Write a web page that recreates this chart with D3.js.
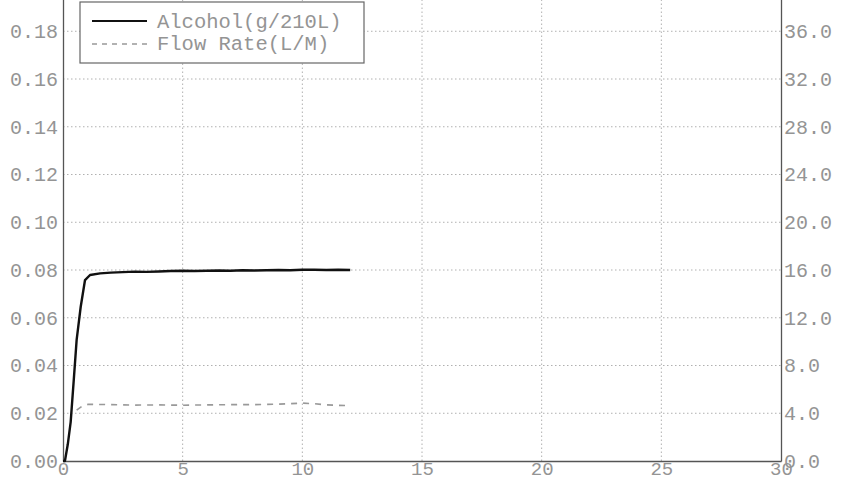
<!DOCTYPE html>
<html><head><meta charset="utf-8">
<script src="https://cdn.jsdelivr.net/npm/d3@7"></script>
<style>body{margin:0;background:#fff}svg{display:block}</style>
</head><body>
<svg id="c" width="843" height="481"></svg>
<script>
const alcohol = [[0,0],[0.08,0],[0.2,0.007],[0.32,0.0163],[0.45,0.034],[0.57,0.0507],[0.74,0.0646],[0.92,0.0758],[1.13,0.0779],[1.55,0.0786],[2.0,0.0789],[2.5,0.0791],[3.0,0.0793],[3.5,0.0792],[4.0,0.0794],[4.5,0.0796],[5.0,0.0797],[5.5,0.0796],[6.0,0.0797],[6.5,0.0798],[7.0,0.0797],[7.5,0.0799],[8.0,0.0798],[8.5,0.0799],[9.0,0.0800],[9.5,0.0799],[10.0,0.0801],[10.5,0.0801],[11.0,0.0800],[11.5,0.0801],[12.0,0.0800]];
const flow = [[0.57,4.27],[0.8,4.6],[1.06,4.75],[2,4.72],[3,4.68],[4,4.7],[5,4.67],[6,4.7],[7,4.72],[8,4.72],[9,4.76],[10,4.85],[10.5,4.8],[11,4.7],[12,4.63]];
const xTicks = [0,5,10,15,20,25,30];
const yTicks = [0,0.02,0.04,0.06,0.08,0.10,0.12,0.14,0.16,0.18];
const y2Ticks = [0,4,8,12,16,20,24,28,32,36];
const seriesNames = ["Alcohol(g/210L)","Flow Rate(L/M)"];

const svg = d3.select("#c");
const L=63, R=781, B=461, T=-16.5;
const x = d3.scaleLinear().domain([0,30]).range([L,R]);
const y = d3.scaleLinear().domain([0,0.2]).range([B,T]);
const y2 = d3.scaleLinear().domain([0,40]).range([B,T]);
const font = "'Liberation Mono','Courier New',monospace";
const txt = "#949494";

// grid
svg.append("g").selectAll("line").data(yTicks.filter(d=>d>0)).join("line")
  .attr("x1",L).attr("x2",R).attr("y1",d=>y(d)).attr("y2",d=>y(d))
  .attr("stroke","#b0b0b0").attr("stroke-width",1).attr("stroke-dasharray","1.5,2.5");
svg.append("g").selectAll("line").data(xTicks.filter(d=>d>0&&d<30)).join("line")
  .attr("y1",B).attr("y2",0).attr("x1",d=>x(d)).attr("x2",d=>x(d))
  .attr("stroke","#b0b0b0").attr("stroke-width",1).attr("stroke-dasharray","1.5,2.5");

// axes
const gL = svg.append("g").attr("transform",`translate(${L},0)`)
  .call(d3.axisLeft(y).tickValues(yTicks).tickFormat(d3.format(".2f")).tickSize(0).tickPadding(5));
const gR = svg.append("g").attr("transform",`translate(${R},0)`)
  .call(d3.axisRight(y2).tickValues(y2Ticks).tickFormat(d3.format(".1f")).tickSize(0).tickPadding(3));
const gB = svg.append("g").attr("transform",`translate(0,${B})`)
  .call(d3.axisBottom(x).tickValues(xTicks).tickFormat(d3.format("d")).tickSize(0).tickPadding(3));
[gL,gR,gB].forEach(g=>{
  g.select(".domain").attr("stroke","#555").attr("stroke-width",1.3);
  g.selectAll("text").attr("fill",txt).style("font-family",font).style("font-size","20px");
});
gB.selectAll("text").attr("dy","0.6em").style("font-size","19px");

// lines
svg.append("path").datum(alcohol).attr("fill","none").attr("stroke","#111").attr("stroke-width",2.4)
  .attr("stroke-linejoin","round").attr("d",d3.line().x(d=>x(d[0])).y(d=>y(d[1])));
svg.append("path").datum(flow).attr("fill","none").attr("stroke","#999").attr("stroke-width",1.6)
  .attr("stroke-dasharray","6,6").attr("d",d3.line().x(d=>x(d[0])).y(d=>y2(d[1])));

// legend
const lg = svg.append("g");
lg.append("rect").attr("x",80).attr("y",2).attr("width",284).attr("height",61)
  .attr("fill","#fff").attr("stroke","#666").attr("stroke-width",1.2);
lg.append("line").attr("x1",92).attr("x2",147).attr("y1",21).attr("y2",21).attr("stroke","#111").attr("stroke-width",2.2);
lg.append("line").attr("x1",92).attr("x2",147).attr("y1",44).attr("y2",44).attr("stroke","#999").attr("stroke-width",1.5).attr("stroke-dasharray","5,5");
lg.selectAll("text").data(seriesNames).join("text")
  .attr("x",157).attr("y",(d,i)=>28+i*22).text(d=>d)
  .attr("fill",txt).style("font-family",font).style("font-size","20.5px");
</script>
</body></html>
